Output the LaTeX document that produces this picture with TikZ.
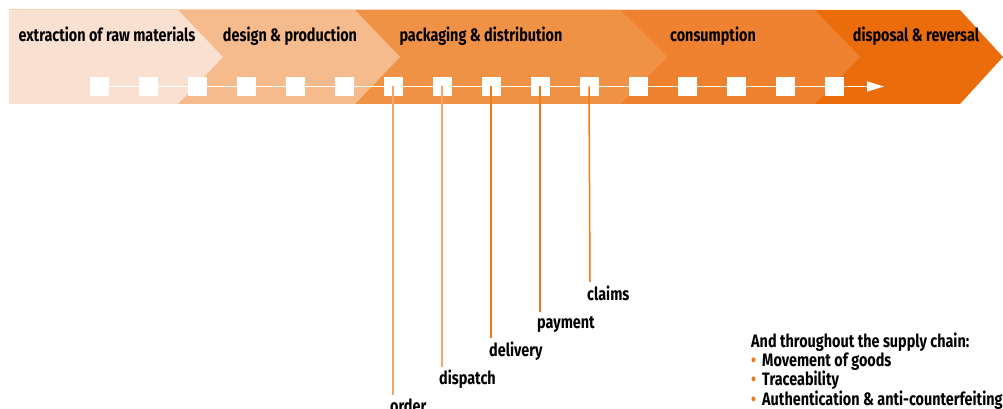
\documentclass[tikz,border=0pt]{standalone}
\usepackage{fontspec}
\newfontfamily\cond{Fira Sans}[FakeStretch=0.8]
\usetikzlibrary{arrows.meta}
\definecolor{cA}{HTML}{FAE0D0}
\definecolor{cB}{HTML}{F6BB8C}
\definecolor{cC}{HTML}{F09246}
\definecolor{cD}{HTML}{EE8230}
\definecolor{cE}{HTML}{EB6C0A}
\definecolor{lnL}{HTML}{F5A66A}
\definecolor{lnD}{HTML}{EE7A1A}
\definecolor{bul}{HTML}{EE7A1A}
\tikzset{
  txt/.style={font=\cond\bfseries\fontsize{18}{20}\selectfont, text=black, inner sep=0pt},
  head/.style={txt, anchor=base},
  lbl/.style={txt, anchor=base west},
  sq/.style={fill=white, draw=none, minimum size=19pt, inner sep=0pt},
  vline/.style={line width=1.5pt},
}
\begin{document}
\begin{tikzpicture}[x=1pt,y=-1pt]
\useasboundingbox (0,0) rectangle (1003,409);
% chevron bands, widest first
\fill[cE] (9,10) -- (960,10) -- (1003,57) -- (960,104) -- (9,104) -- cycle;
\fill[cD] (9,10) -- (815,10) -- (860,57) -- (815,104) -- (9,104) -- cycle;
\fill[cC] (9,10) -- (620,10) -- (667,57) -- (620,104) -- (9,104) -- cycle;
\fill[cB] (9,10) -- (355,10) -- (400,57) -- (355,104) -- (9,104) -- cycle;
\fill[cA] (9,10) -- (178,10) -- (223,57) -- (178,104) -- (9,104) -- cycle;
% headers
\node[head] (h1) at (107,42) {extraction of raw materials};
\node[head] (h2) at (290,42) {design \& production};
\node[head] (h3) at (481,42) {packaging \& distribution};
\node[head] (h4) at (713,42) {consumption};
\node[head] (h5) at (916,42) {disposal \& reversal};
% squares
\foreach \i in {1,...,16} {
  \node[sq] (s\i) at ({99+49*(\i-1)},86.5) {};
}
\coordinate (tip) at (884,86.5);
\draw[white, line width=1.2pt, -{Triangle[length=17pt,width=10pt]}] (s1.center) -- (tip);
% labels
\node[lbl] (order) at (390,412) {order};
\node[lbl] (dispatch) at (439,384) {dispatch};
\node[lbl] (delivery) at (489,356) {delivery};
\node[lbl] (payment) at (537,328) {payment};
\node[lbl] (claims) at (587,300) {claims};
% drop lines
\coordinate (e7) at (393,395);
\coordinate (e8) at (442,367);
\coordinate (e9) at (491,338);
\coordinate (e10) at (540,312);
\coordinate (e11) at (590,282);
\draw[vline, lnL] (s7.center) -- (e7);
\draw[vline, lnL] (s8.center) -- (e8);
\draw[vline, lnD] (s9.center) -- (e9);
\draw[vline, lnD] (s10.center) -- (e10);
\draw[vline, lnD] (s11.center) -- (e11);
% bottom-right text
\node[lbl] (t0) at (751,347) {And throughout the supply chain:};
\node[lbl, text=bul] (b1) at (751,366) {•};
\node[lbl] (t1) at (762,366) {Movement of goods};
\node[lbl, text=bul] (b2) at (751,385) {•};
\node[lbl] (t2) at (762,385) {Traceability};
\node[lbl, text=bul] (b3) at (751,405) {•};
\node[lbl] (t3) at (762,405) {Authentication \& anti-counterfeiting};
\end{tikzpicture}
\end{document}
